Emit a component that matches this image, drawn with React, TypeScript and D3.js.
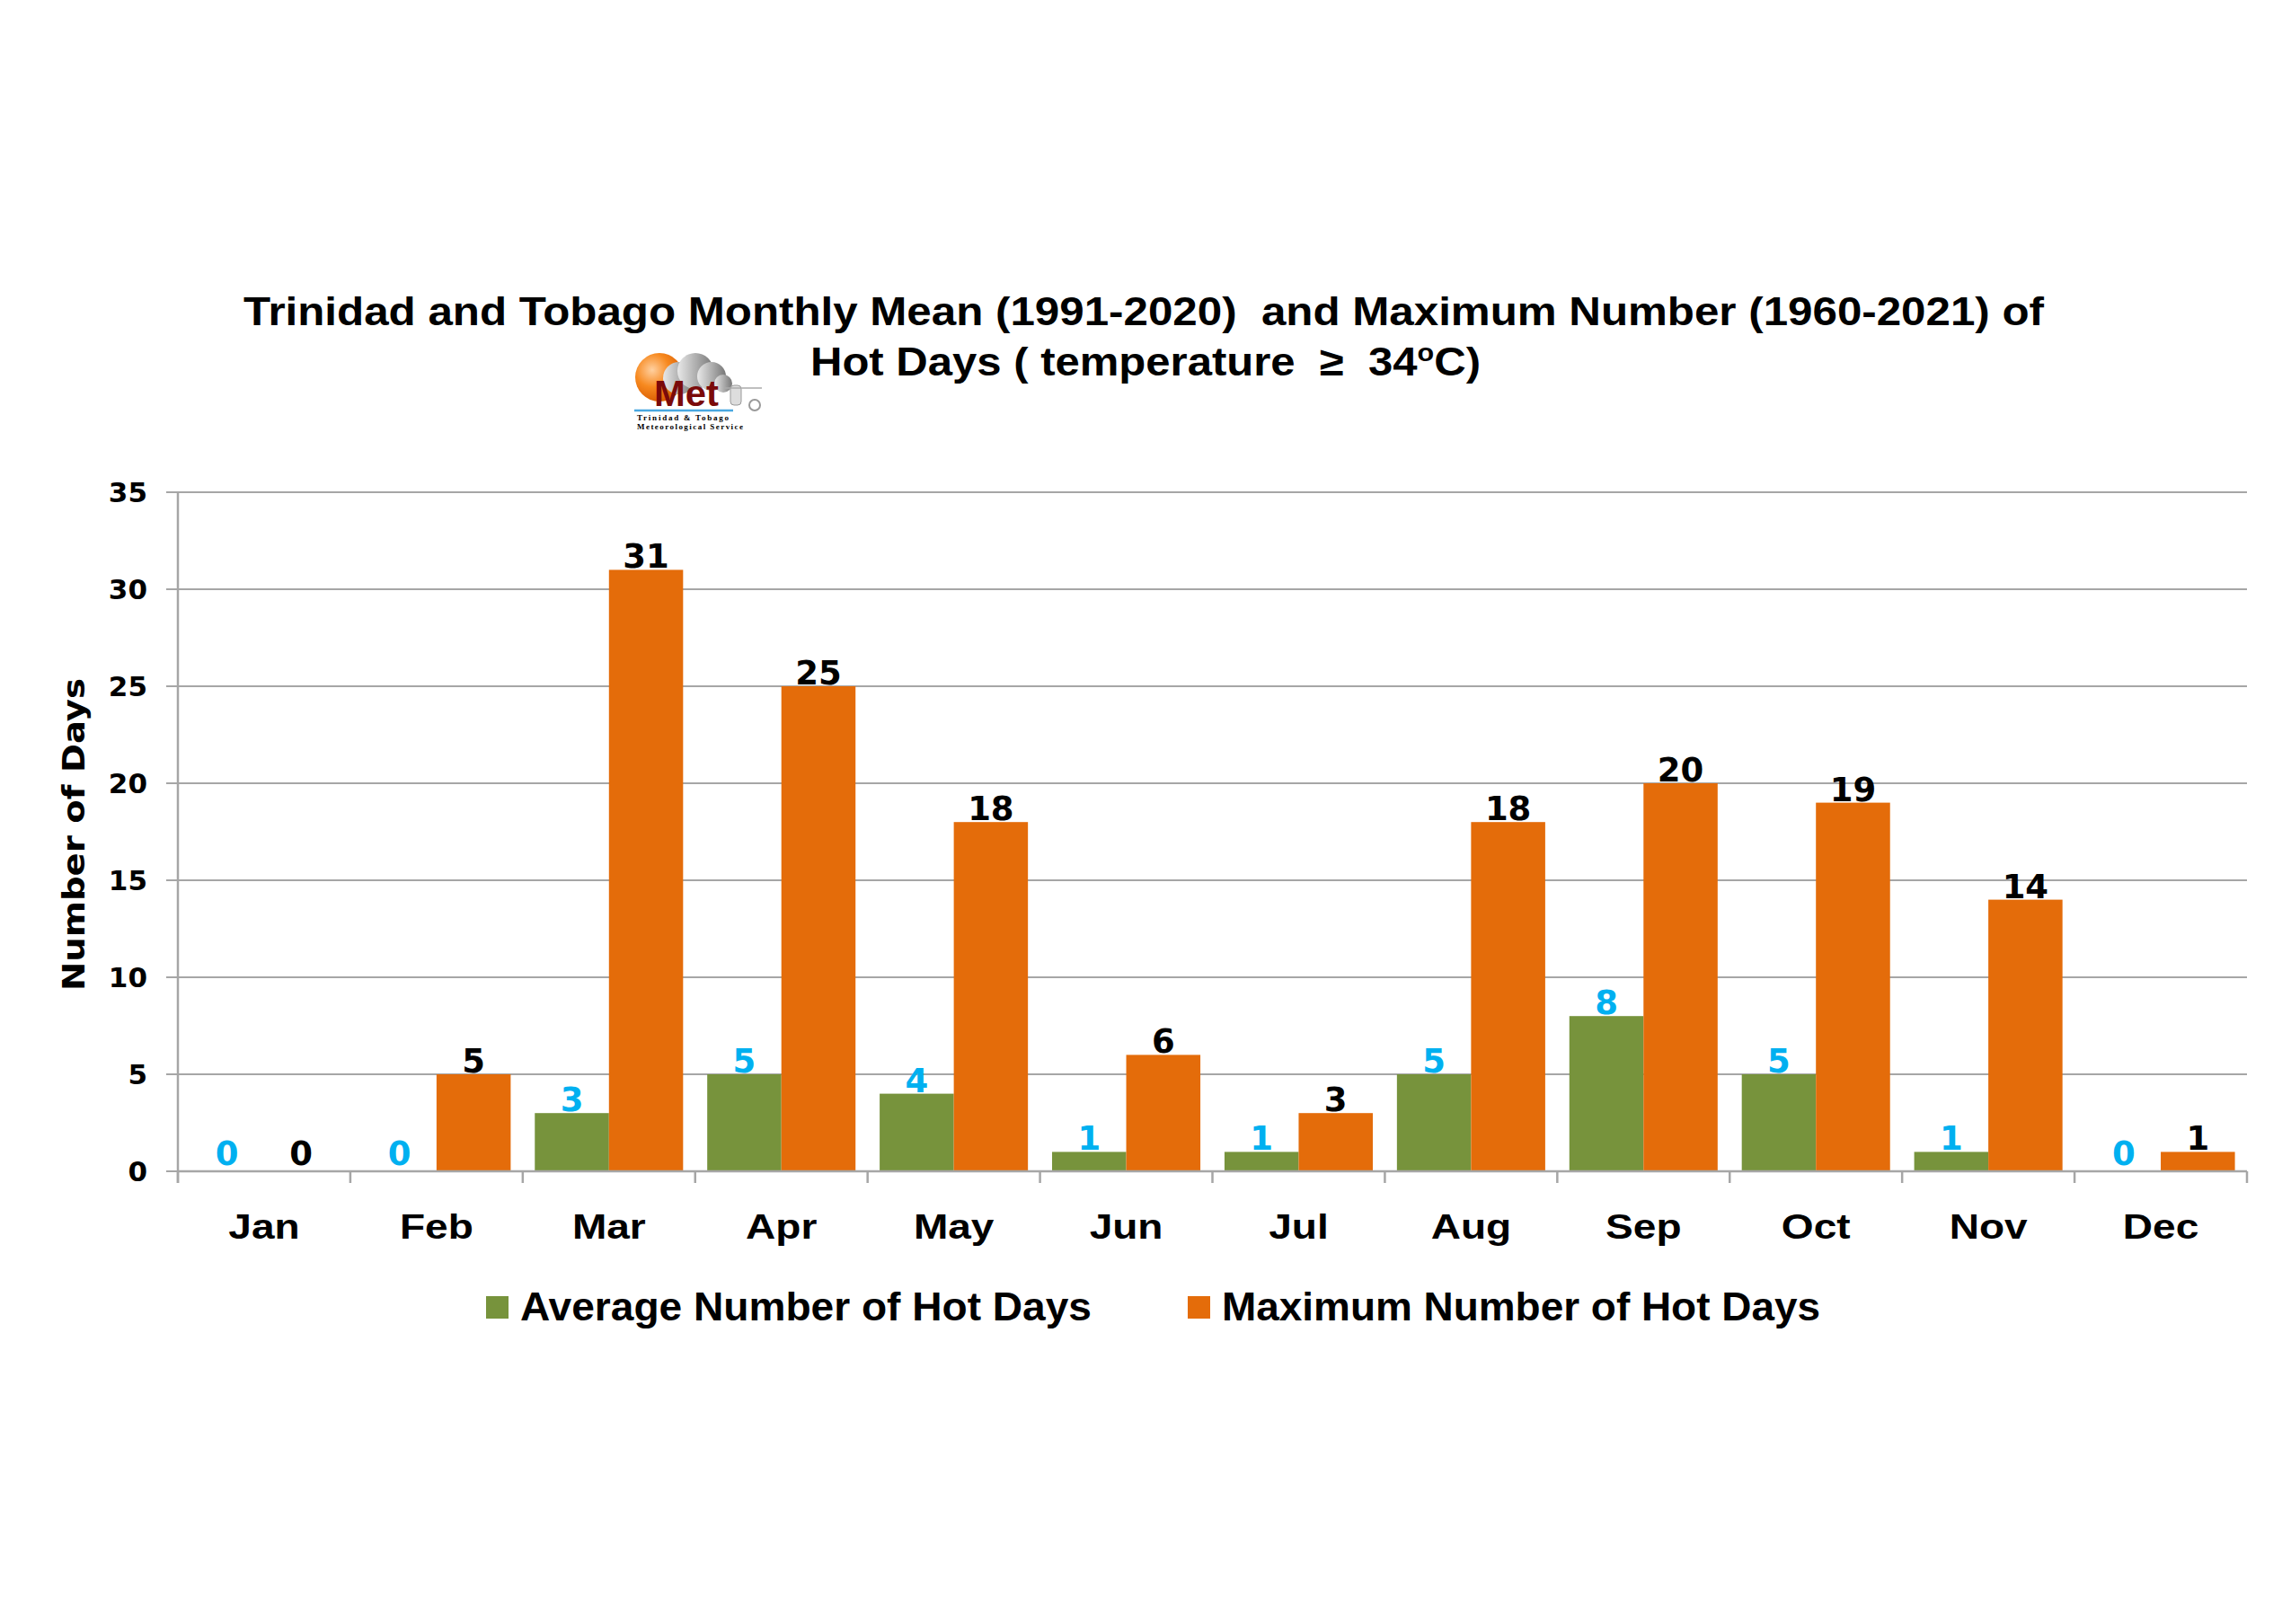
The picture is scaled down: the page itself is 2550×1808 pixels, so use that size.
import React, { useEffect, useRef } from "react";
import * as d3 from "d3";

// chart values
const months = ["Jan", "Feb", "Mar", "Apr", "May", "Jun", "Jul", "Aug", "Sep", "Oct", "Nov", "Dec"];
const avgDays = [0, 0, 3, 5, 4, 1, 1, 5, 8, 5, 1, 0];
const maxDays = [0, 5, 31, 25, 18, 6, 3, 18, 20, 19, 14, 1];
const yTicks = [0, 5, 10, 15, 20, 25, 30, 35];
const seriesNames = ["Average Number of Hot Days", "Maximum Number of Hot Days"];
const titleLine1 = "Trinidad and Tobago Monthly Mean (1991-2020)  and Maximum Number (1960-2021) of";
const titleLine2 = "Hot Days ( temperature  \u2265  34";

const GREEN = "#77933C";
const ORANGE = "#E46C0A";
const BLUE = "#00B0F0";
const GRID = "#A6A6A6";

const App = () => {
    const svgRef = useRef<SVGSVGElement>(null);

    useEffect(() => {
        const W = 2550;
        const H = 1808;
        const svg = d3.select(svgRef.current).attr("width", W).attr("height", H);
        svg.selectAll("*").remove();

        svg.append("rect").attr("width", W).attr("height", H).attr("fill", "#fff");

        const left = 198;
        const right = 2501;
        const bottom = 1304;
        const top = 548;

        const x = d3.scaleBand().domain(months).range([left, right]).paddingInner(0.14).paddingOuter(0.07);
        const xSub = d3.scaleBand().domain(["avg", "max"]).range([0, x.bandwidth()]);
        const y = d3.scaleLinear().domain([0, 35]).range([bottom, top]);
        const step = x.step();

        // Gridlines
        svg.append("g")
            .selectAll("line")
            .data(yTicks)
            .enter()
            .append("line")
            .attr("x1", left - 13)
            .attr("x2", right)
            .attr("y1", (d) => y(d))
            .attr("y2", (d) => y(d))
            .attr("stroke", GRID)
            .attr("stroke-width", 2);

        // y tick labels
        svg.append("g")
            .selectAll("text")
            .data(yTicks)
            .enter()
            .append("text")
            .attr("x", 164)
            .attr("y", (d) => y(d) + 11)
            .attr("text-anchor", "end")
            .attr("font-family", "DejaVu Sans")
            .attr("font-weight", "bold")
            .attr("font-size", 31)
            .text((d) => d);

        // Y axis title
        svg.append("text")
            .attr("transform", `translate(94,929) rotate(-90)`)
            .attr("text-anchor", "middle")
            .attr("font-family", "DejaVu Sans")
            .attr("font-weight", "bold")
            .attr("font-size", 33)
            .attr("textLength", 348)
            .attr("lengthAdjust", "spacingAndGlyphs")
            .text("Number of Days");

        // Bars
        const rows = months.map((m, i) => ({ m, avg: avgDays[i], max: maxDays[i] }));
        const g = svg.append("g");
        rows.forEach((r) => {
            [
                { key: "avg", v: r.avg, c: GREEN },
                { key: "max", v: r.max, c: ORANGE },
            ].forEach((s) => {
                const bx = (x(r.m) as number) + (xSub(s.key) as number);
                if (s.v > 0) {
                    g.append("rect")
                        .attr("x", bx)
                        .attr("y", y(s.v))
                        .attr("width", xSub.bandwidth())
                        .attr("height", y(0) - y(s.v))
                        .attr("fill", s.c);
                }
                g.append("text")
                    .attr("x", bx + xSub.bandwidth() / 2)
                    .attr("y", y(s.v) - (s.v === 0 ? 7 : 2))
                    .attr("text-anchor", "middle")
                    .attr("font-family", "DejaVu Sans")
                    .attr("font-weight", "bold")
                    .attr("font-size", 37)
                    .attr("fill", s.key === "avg" ? BLUE : "#000")
                    .text(s.v);
            });
        });

        // X axis line and category ticks
        svg.append("line")
            .attr("x1", left)
            .attr("x2", right)
            .attr("y1", bottom)
            .attr("y2", bottom)
            .attr("stroke", GRID)
            .attr("stroke-width", 2.5);
        svg.append("line")
            .attr("x1", left)
            .attr("x2", left)
            .attr("y1", top)
            .attr("y2", bottom + 13)
            .attr("stroke", GRID)
            .attr("stroke-width", 2.5);
        svg.append("g")
            .selectAll("line")
            .data(d3.range(months.length + 1))
            .enter()
            .append("line")
            .attr("x1", (i) => left + i * step)
            .attr("x2", (i) => left + i * step)
            .attr("y1", bottom)
            .attr("y2", bottom + 13)
            .attr("stroke", GRID)
            .attr("stroke-width", 2.5);

        // Month labels
        svg.append("g")
            .selectAll("text")
            .data(months)
            .enter()
            .append("text")
            .attr("transform", (d) => `translate(${(x(d) as number) + x.bandwidth() / 2},1379) scale(1.18,1)`)
            .attr("text-anchor", "middle")
            .attr("font-family", "Liberation Sans")
            .attr("font-weight", "bold")
            .attr("font-size", 39)
            .text((d) => d);

        // Legend
        const legend = [
            { name: seriesNames[0], c: GREEN, sx: 541, tx: 579, tl: 636 },
            { name: seriesNames[1], c: ORANGE, sx: 1322, tx: 1360, tl: 666 },
        ];
        legend.forEach((l) => {
            svg.append("rect").attr("x", l.sx).attr("y", 1443).attr("width", 25).attr("height", 25).attr("fill", l.c);
            svg.append("text")
                .attr("x", l.tx)
                .attr("y", 1470)
                .attr("font-family", "Liberation Sans")
                .attr("font-weight", "bold")
                .attr("font-size", 44)
                .attr("textLength", l.tl)
                .attr("lengthAdjust", "spacingAndGlyphs")
                .text(l.name);
        });

        // Title
        svg.append("text")
            .attr("x", 1273)
            .attr("y", 362)
            .attr("text-anchor", "middle")
            .attr("font-family", "Liberation Sans")
            .attr("font-weight", "bold")
            .attr("font-size", 45)
            .attr("textLength", 2004)
            .attr("lengthAdjust", "spacingAndGlyphs")
            .style("white-space", "pre")
            .text(titleLine1);
        const t2 = svg.append("text")
            .attr("x", 1275)
            .attr("y", 418)
            .attr("text-anchor", "middle")
            .attr("font-family", "Liberation Sans")
            .attr("font-weight", "bold")
            .attr("font-size", 45)
            .attr("textLength", 746)
            .attr("lengthAdjust", "spacingAndGlyphs")
            .style("white-space", "pre");
        t2.append("tspan").text(titleLine2);
        t2.append("tspan").attr("font-size", 28).attr("dy", -16).text("o");
        t2.append("tspan").attr("dy", 16).text("C)");

        // Met Service logo (simplified)
        const logo = svg.append("g");
        const defs = svg.append("defs");
        const og = defs.append("radialGradient").attr("id", "orb").attr("cx", "35%").attr("cy", "35%").attr("r", "70%");
        og.append("stop").attr("offset", "0%").attr("stop-color", "#FFD0A0");
        og.append("stop").attr("offset", "50%").attr("stop-color", "#F7891F");
        og.append("stop").attr("offset", "100%").attr("stop-color", "#D85A00");
        const cg = defs.append("linearGradient").attr("id", "cloud").attr("x1", "0").attr("x2", "1");
        cg.append("stop").attr("offset", "0%").attr("stop-color", "#E8E8E8");
        cg.append("stop").attr("offset", "100%").attr("stop-color", "#777");
        logo.append("circle").attr("cx", 734).attr("cy", 420).attr("r", 27).attr("fill", "url(#orb)");
        [
            [756, 421, 18],
            [774, 413, 20],
            [792, 419, 16],
            [805, 427, 10],
        ].forEach(([cx, cy, r]) => logo.append("circle").attr("cx", cx).attr("cy", cy).attr("r", r).attr("fill", "url(#cloud)"));
        logo.append("text")
            .attr("x", 728)
            .attr("y", 452)
            .attr("font-family", "Liberation Sans")
            .attr("font-weight", "bold")
            .attr("font-size", 40)
            .attr("textLength", 72)
            .attr("lengthAdjust", "spacingAndGlyphs")
            .attr("fill", "#7A0A0A")
            .text("Met");
        logo.append("line").attr("x1", 706).attr("x2", 816).attr("y1", 457).attr("y2", 457).attr("stroke", "#4AA8E0").attr("stroke-width", 2.5);
        logo.append("rect").attr("x", 813).attr("y", 429).attr("width", 12).attr("height", 22).attr("rx", 4).attr("fill", "#ddd").attr("stroke", "#999");
        logo.append("line").attr("x1", 806).attr("x2", 848).attr("y1", 432).attr("y2", 432).attr("stroke", "#aaa").attr("stroke-width", 1.5);
        logo.append("circle").attr("cx", 840).attr("cy", 451).attr("r", 6).attr("fill", "none").attr("stroke", "#999").attr("stroke-width", 2);
        logo.append("text").attr("x", 709).attr("y", 468).attr("font-family", "Liberation Serif").attr("font-weight", "bold").attr("font-size", 9).attr("textLength", 102).text("Trinidad & Tobago");
        logo.append("text").attr("x", 709).attr("y", 478).attr("font-family", "Liberation Serif").attr("font-weight", "bold").attr("font-size", 9).attr("textLength", 118).text("Meteorological Service");
    }, []);

    return (
        <div style={{ position: "absolute", top: 0, left: 0, background: "#fff" }}>
            <svg ref={svgRef} style={{ display: "block" }}></svg>
        </div>
    );
};

export default App;
